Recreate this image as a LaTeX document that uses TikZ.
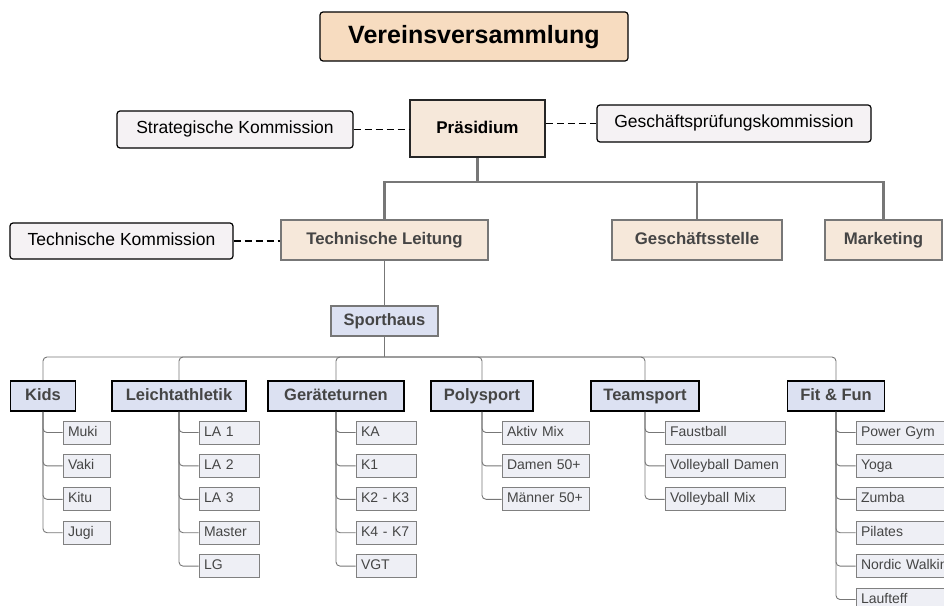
\documentclass[tikz,border=0pt]{standalone}
\usepackage{fontspec}
\setmainfont{Liberation Sans}
\definecolor{vvfill}{HTML}{F7DCC0}
\definecolor{leadfill}{HTML}{F6E8DA}
\definecolor{kommfill}{HTML}{F5F2F4}
\definecolor{bluefill}{HTML}{DCE1F2}
\definecolor{itemfill}{HTML}{EEEFF5}
\definecolor{linegray}{HTML}{777777}
\definecolor{textgray}{HTML}{454545}
\begin{document}
\begin{tikzpicture}[
    x=1pt, y=-1pt,
    every node/.style={inner sep=0pt},
    topbox/.style={draw,rounded corners=3pt,line width=1.2pt,fill=vvfill,text height=18pt,text depth=5pt,font=\fontsize{25}{28}\selectfont\bfseries},
    lead/.style={draw=black!85,line width=1.5pt,fill=leadfill,text height=12.5pt,text depth=3.5pt,font=\fontsize{17}{20}\selectfont\bfseries},
    komm/.style={draw,rounded corners=3pt,line width=1.2pt,fill=kommfill,text height=12.5pt,text depth=4pt,font=\fontsize{17.5}{20}\selectfont},
    dept/.style={draw=linegray,line width=1.5pt,fill=leadfill,text=textgray,text height=12pt,text depth=3.5pt,font=\fontsize{16.8}{20}\selectfont\bfseries},
    haus/.style={draw=linegray,line width=1.2pt,fill=bluefill,text=textgray,text height=12pt,text depth=3.5pt,font=\fontsize{16.5}{20}\selectfont\bfseries},
    cat/.style={draw,line width=1.8pt,fill=bluefill,text=textgray,text height=12pt,text depth=3.5pt,font=\fontsize{16.5}{20}\selectfont\bfseries},
    item/.style={draw=black!50,line width=0.8pt,fill=itemfill,text=textgray,inner xsep=5pt,minimum height=23pt,text height=10pt,text depth=3pt,align=left,font=\fontsize{14}{17}\selectfont},
    bus/.style={draw=linegray,line width=2.5pt},
    sub/.style={draw=linegray,line width=0.9pt,rounded corners=4pt},
    dashline/.style={line width=1.3pt,dash pattern=on 7pt off 4pt}
]
\useasboundingbox (0,0) rectangle (944,605);
\clip (0,0) rectangle (944,605);

% Leitung
\node[topbox,minimum width=308pt,minimum height=49pt] (vv) at (474,36.5) {Vereinsversammlung};
\node[lead,minimum width=135pt,minimum height=57pt] (pras) at (477.5,128.5) {Präsidium};
\node[komm,minimum width=236pt,minimum height=37pt] (sk) at (235,129.5) {Strategische Kommission};
\node[komm,minimum width=274pt,minimum height=37pt] (gpk) at (734,123.5) {Geschäftsprüfungskommission};
\draw[dashline] (sk.east) -- (sk.east -| pras.west);
\draw[dashline] (pras.east |- gpk.west) -- (gpk.west);

% Bereiche
\node[dept,minimum width=207pt,minimum height=40pt] (tl) at (384.5,240) {Technische Leitung};
\node[dept,minimum width=170pt,minimum height=40pt] (gs) at (697,240) {Geschäftsstelle};
\node[dept,minimum width=117pt,minimum height=40pt] (mk) at (883.5,240) {Marketing};
\node[komm,minimum width=223pt,minimum height=36pt] (tk) at (121.5,241) {Technische Kommission};
\draw[dashline] (tk.east) -- (tk.east -| tl.west);
\coordinate (bus1) at (477.5,182);
\draw[bus] (pras.south) -- (bus1);
\draw[bus] (bus1) -| (tl.north);
\draw[bus] (bus1) -| (gs.north);
\draw[bus] (bus1) -| (mk.north);

% Sporthaus
\node[haus,minimum width=107pt,minimum height=30pt] (haus) at (384.5,321) {Sporthaus};
\draw[sub] (tl.south) -- (haus.north);
\coordinate (bus2) at (384.5,357);
\draw[sub] (haus.south) -- (bus2);

\foreach \cat/\cx/\w/\title in {kids/43/65/Kids, la/179/134/Leichtathletik, gt/336/136/Geräteturnen,
    poly/482/102/Polysport, team/645/108/Teamsport, fit/836/97/Fit \& Fun} {
  \node[cat,minimum width=\w pt,minimum height=30pt] (\cat) at (\cx,396) {\title};
  \draw[sub] (bus2) -| (\cat.north);
}

% Gruppen
\foreach \cat/\cx/\w/\names in {kids/43/47/{Muki,Vaki,Kitu,Jugi},
    la/179/60/{LA 1,LA 2,LA 3,Master,LG},
    gt/336/60/{KA,K1,K2 - K3,K4 - K7,VGT},
    poly/482/87/{Aktiv Mix,Damen 50+,Männer 50+},
    team/645/120/{Faustball,Volleyball Damen,Volleyball Mix},
    fit/836/115/{Power Gym,Yoga,Zumba,Pilates,Nordic Walking,Laufteff}} {
  \pgfmathsetmacro\tw{\w-10}
  \foreach \n [count=\i] in \names {
    \node[item,text width=\tw pt] (\cat-\i) at (\cx+20+\w/2,432.5+33.4*\i-33.4) {\n};
    \draw[sub] (\cat.south) |- (\cat-\i.west);
  }
}
\end{tikzpicture}
\end{document}
